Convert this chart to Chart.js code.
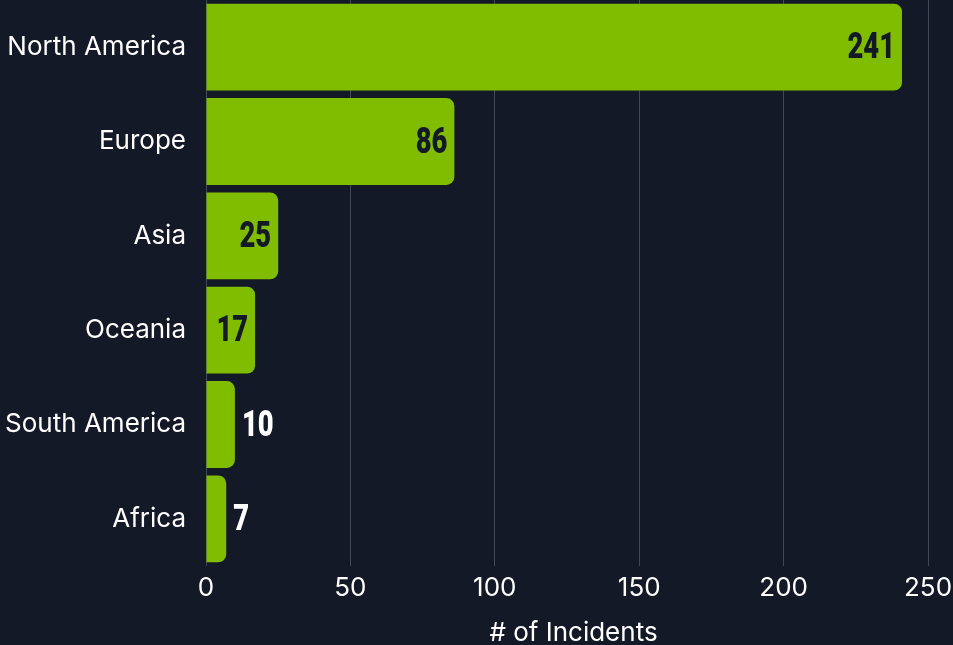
<!DOCTYPE html>
<html>
<head>
<meta charset="utf-8">
<script src="https://cdn.jsdelivr.net/npm/chart.js@4.4.0/dist/chart.umd.min.js"></script>
<style>
  html, body { margin: 0; padding: 0; background: #131926; overflow: hidden; }
  #wrap { width: 953px; height: 645px; }
</style>
</head>
<body>
<div id="wrap"><canvas id="c" width="953" height="645"></canvas></div>
<script>
const regions = ["North America", "Europe", "Asia", "Oceania", "South America", "Africa"];
const incidents = [241, 86, 25, 17, 10, 7];
const xTicks = [0, 50, 100, 150, 200, 250];
const xTitle = "# of Incidents";

const BG = '#131926';
const BAR = '#80bc00';

const valueLabels = {
  id: 'valueLabels',
  afterDatasetsDraw(chart) {
    const ctx = chart.ctx;
    const meta = chart.getDatasetMeta(0);
    const squeeze = 0.76;
    ctx.save();
    ctx.font = '900 36px Roboto';
    ctx.textBaseline = 'middle';
    meta.data.forEach((bar, i) => {
      const text = String(chart.data.datasets[0].data[i]);
      const w = ctx.measureText(text).width * squeeze;
      const len = bar.x - bar.base;
      const pad = 7;
      ctx.save();
      if (len > w + pad * 2) {
        ctx.translate(bar.x - pad, bar.y + 2);
        ctx.scale(squeeze, 1);
        ctx.textAlign = 'right';
        ctx.fillStyle = BG;
      } else {
        ctx.translate(bar.x + pad, bar.y + 2);
        ctx.scale(squeeze, 1);
        ctx.textAlign = 'left';
        ctx.fillStyle = '#ffffff';
      }
      ctx.fillText(text, 0, 0);
      ctx.restore();
    });
    ctx.restore();
  }
};

new Chart(document.getElementById('c'), {
  type: 'bar',
  data: {
    labels: regions,
    datasets: [{
      data: incidents,
      backgroundColor: BAR,
      borderRadius: 8,
      borderSkipped: 'start',
      barPercentage: 0.92,
      categoryPercentage: 1.0
    }]
  },
  options: {
    indexAxis: 'y',
    responsive: false,
    animation: false,
    layout: { padding: { top: 0, right: 12, bottom: 0, left: 0 } },
    plugins: { legend: { display: false }, tooltip: { enabled: false } },
    scales: {
      x: {
        min: 0,
        max: 254.5,
        afterBuildTicks(scale) {
          scale.ticks = xTicks.map(v => ({ value: v }));
        },
        afterFit(scale) { scale.height = 79; scale.paddingLeft = 0; scale.paddingRight = 0; },
        grid: { color: '#434955', lineWidth: 1, drawTicks: false },
        border: { display: false },
        ticks: {
          color: '#ffffff',
          font: { family: 'Inter', size: 26 },
          padding: 7,
          maxRotation: 0,
          autoSkip: false
        },
        title: {
          display: true,
          text: xTitle,
          color: '#ffffff',
          font: { family: 'Inter', size: 26 },
          padding: { top: 4, bottom: -4 }
        }
      },
      y: {
        afterFit(scale) { scale.width = 206; scale.paddingTop = 0; scale.paddingBottom = 0; },
        grid: { display: false, drawTicks: false },
        border: { display: false },
        ticks: {
          color: '#ffffff',
          font: { family: 'Inter', size: 26 },
          padding: 20
        }
      }
    }
  },
  plugins: [valueLabels]
});
</script>
</body>
</html>
